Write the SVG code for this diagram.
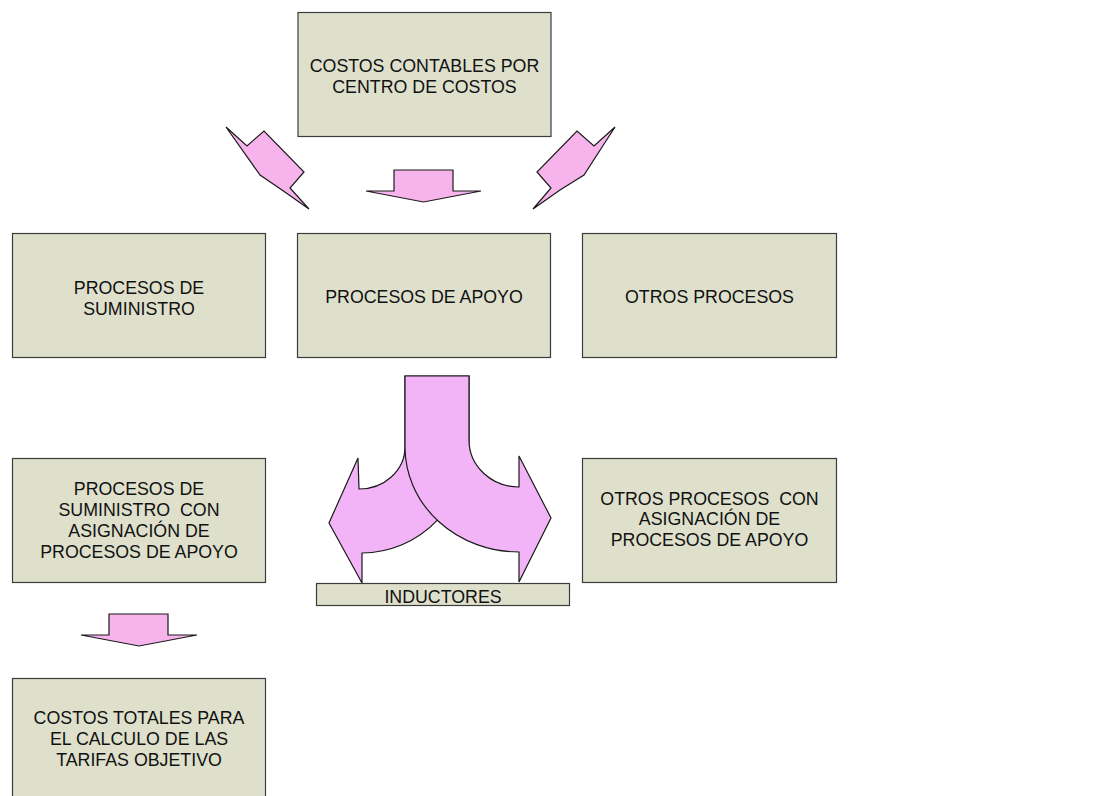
<svg xmlns="http://www.w3.org/2000/svg" width="1119" height="796" viewBox="0 0 1119 796">
<style>
.box{fill:#DEE0CC;stroke:#3c3c3c;stroke-width:1.2}
.t{font-family:"Liberation Sans",Arial,sans-serif;font-size:17.8px;fill:#111;text-anchor:middle;white-space:pre}
.arr{fill:#F7B4EC;stroke:#1a1a1a;stroke-width:1.2;stroke-linejoin:miter}
.split{fill:#F2B4F7;stroke:#1a1a1a;stroke-width:1.2}
</style>
<rect width="1119" height="796" fill="#fff"/>
<g id="n-costos-contables"><rect class="box" x="298" y="12.5" width="253" height="124"/><text class="t" x="424.5" y="72">COSTOS CONTABLES POR</text><text class="t" x="424.5" y="92.5">CENTRO DE COSTOS</text></g>
<g id="n-suministro"><rect class="box" x="12.5" y="233.5" width="253" height="124"/><text class="t" x="139" y="293.5">PROCESOS DE</text><text class="t" x="139" y="314.5">SUMINISTRO</text></g>
<g id="n-apoyo"><rect class="box" x="297.5" y="233.5" width="253" height="124"/><text class="t" x="424" y="302.5">PROCESOS DE APOYO</text></g>
<g id="n-otros"><rect class="box" x="582.5" y="233.5" width="254" height="124"/><text class="t" x="709.5" y="302.5">OTROS PROCESOS</text></g>
<g id="n-suministro-asig"><rect class="box" x="12.5" y="458.5" width="253" height="124"/><text class="t" x="139" y="495">PROCESOS DE</text><text class="t" x="139" y="516">SUMINISTRO  CON</text><text class="t" x="139" y="537">ASIGNACIÓN DE</text><text class="t" x="139" y="557.5">PROCESOS DE APOYO</text></g>
<g id="n-otros-asig"><rect class="box" x="582.5" y="458.5" width="254" height="124"/><text class="t" x="709.5" y="504.5">OTROS PROCESOS  CON</text><text class="t" x="709.5" y="525">ASIGNACIÓN DE</text><text class="t" x="709.5" y="545.5">PROCESOS DE APOYO</text></g>
<g id="n-costos-totales"><rect class="box" x="12.5" y="678.5" width="253" height="124"/><text class="t" x="139" y="724">COSTOS TOTALES PARA</text><text class="t" x="139" y="745">EL CALCULO DE LAS</text><text class="t" x="139" y="766">TARIFAS OBJETIVO</text></g>
<g id="connectors">
<polygon class="arr" points="226,127 247,146 264,131 304,172 290,188 309,209 282,190 260,175"/>
<polygon class="arr" points="615,127 594,146 577,131 537,172 551,188 533,209 560,190 584,175"/>
<polygon class="arr" points="394,170 453,170 453,191 481,191 423.5,202 366,191 394,191"/>
<polygon class="arr" points="109,614 168,614 168,635 197,635 139,646 81,635 109,635"/>
<path class="split" d="M405,376 L469,376 L469,440 A107,113 0 0 1 362,553 L362,583 L329,523 L358,458 L359,489 A46,42 0 0 0 405,447 Z"/>
<path class="split" d="M405,376 L469,376 L469,440 A50,47 0 0 0 519,487 L519,456 L551,518 L519,582 L519,552 A114,105 0 0 1 405,447 Z"/>
</g>
<g id="n-inductores"><rect class="box" x="316.5" y="583.5" width="253" height="22"/><text class="t" x="443" y="603">INDUCTORES</text></g>
</svg>
